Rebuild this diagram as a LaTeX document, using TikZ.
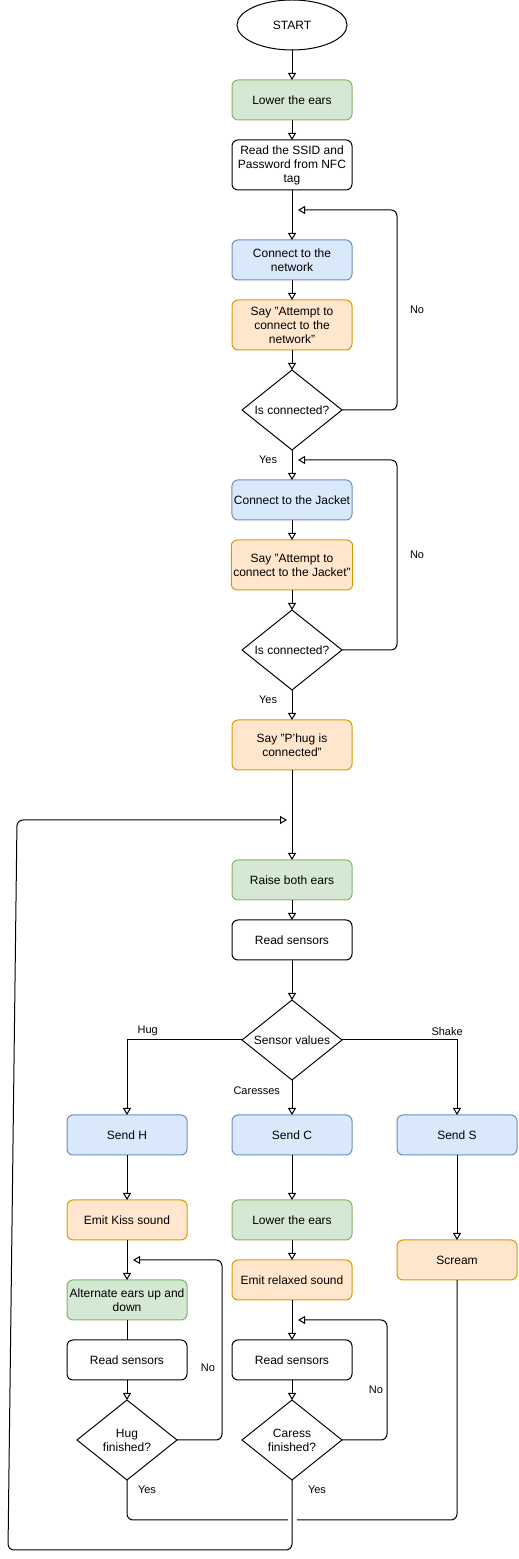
\documentclass[tikz,border=0pt]{standalone}
\usepackage{fontspec}
\setmainfont{Liberation Sans}
\usetikzlibrary{arrows.meta,positioning,shapes.geometric,calc}

\definecolor{earsfill}{HTML}{D5E8D4}
\definecolor{earsline}{HTML}{82B366}
\definecolor{commfill}{HTML}{DAE8FC}
\definecolor{commline}{HTML}{6C8EBF}
\definecolor{speechfill}{HTML}{FFE6CC}
\definecolor{speechline}{HTML}{D79B00}

\begin{document}
\begin{tikzpicture}[x=1pt,y=1pt,>={Triangle[open,length=7pt,width=8pt]},
  every node/.style={font=\fontsize{12}{14}\selectfont,align=center,outer sep=0pt},
  box/.style={draw,rounded corners=6pt,line width=1pt,minimum width=120pt,minimum height=40pt,inner sep=2pt},
  tall/.style={box,minimum height=50pt},
  ears/.style={fill=earsfill,draw=earsline},
  comm/.style={fill=commfill,draw=commline},
  speech/.style={fill=speechfill,draw=speechline},
  decision/.style={draw,diamond,aspect=1.25,line width=1pt,minimum width=100pt,minimum height=80pt,inner sep=0pt},
  lbl/.style={font=\fontsize{11}{13}\selectfont,inner sep=1pt},
  arr/.style={->,line width=1pt},
  link/.style={line width=1pt}]
  \useasboundingbox (0,0) rectangle (519,1559);

  % set-up part
  \node[draw,ellipse,line width=1pt,minimum width=110pt,minimum height=50pt,inner sep=0pt] (start) at (292,1534) {START};
  \node[box,ears,below=30pt of start] (lowerears) {Lower the ears};
  \node[tall,below=20pt of lowerears] (readtag) {Read the SSID and\\Password from NFC\\tag};
  \node[box,comm,below=50pt of readtag] (connet) {Connect to the\\network};
  \node[tall,speech,below=20pt of connet] (saynet) {Say "Attempt to\\connect to the\\network"};
  \node[decision,below=20pt of saynet] (isnet) {Is connected?};
  \node[box,comm,below=30pt of isnet] (conjacket) {Connect to the Jacket};
  \node[tall,speech,below=20pt of conjacket] (sayjacket) {Say "Attempt to\\connect to the Jacket"};
  \node[decision,below=20pt of sayjacket] (isjacket) {Is connected?};
  \node[tall,speech,below=30pt of isjacket] (sayhug) {Say "P'hug is\\connected"};

  % main loop
  \node[box,ears,below=90pt of sayhug] (raiseears) {Raise both ears};
  \node[box,below=20pt of raiseears] (readsens) {Read sensors};
  \node[decision,below=40pt of readsens] (sensval) {Sensor values};
  \node[box,comm,below=35pt of sensval] (sendc) {Send C};
  \node[box,comm,left=45pt of sendc] (sendh) {Send H};
  \node[box,comm,right=45pt of sendc] (sends) {Send S};

  \node[box,speech,below=45pt of sendh] (kiss) {Emit Kiss sound};
  \node[box,ears,below=40pt of kiss] (alternate) {Alternate ears up and\\down};
  \node[box,below=20pt of alternate] (readh) {Read sensors};
  \node[decision,below=20pt of readh] (hugdone) {Hug\\finished?};

  \node[box,ears,below=45pt of sendc] (lowerearsc) {Lower the ears};
  \node[box,speech,below=20pt of lowerearsc] (relaxed) {Emit relaxed sound};
  \node[box,below=40pt of relaxed] (readc) {Read sensors};
  \node[decision,below=20pt of readc] (caressdone) {Caress\\finished?};

  \node[box,speech,below=85pt of sends] (scream) {Scream};

  \coordinate[below right=20pt and 6pt of readtag.south] (nettip);
  \coordinate[below right=10pt and 6pt of isnet.south] (jackettip);
  \coordinate[below left=50pt and 5pt of sayhug.south] (backtip);
  \coordinate[below right=20pt and 6pt of kiss.south] (hugtip);
  \coordinate[below right=20pt and 6pt of relaxed.south] (caresstip);

  \draw[arr] (start) -- (lowerears);
  \draw[arr] (lowerears) -- (readtag);
  \draw[arr] (readtag) -- (connet);
  \draw[arr] (connet) -- (saynet);
  \draw[arr] (saynet) -- (isnet);
  \draw[arr,rounded corners=6pt] (isnet.east) -- ++(55,0) |- node[lbl,pos=0.25,right=12pt] {No} (nettip);
  \draw[arr] (isnet) -- node[lbl,pos=0.33,left=14pt] {Yes} (conjacket);
  \draw[arr] (conjacket) -- (sayjacket);
  \draw[arr] (sayjacket) -- (isjacket);
  \draw[arr,rounded corners=6pt] (isjacket.east) -- ++(55,0) |- node[lbl,pos=0.25,right=12pt] {No} (jackettip);
  \draw[arr] (isjacket) -- node[lbl,pos=0.33,left=14pt] {Yes} (sayhug);
  \draw[arr] (sayhug) -- (raiseears);
  \draw[arr] (raiseears) -- (readsens);
  \draw[arr] (readsens) -- (sensval);

  \draw[arr] (sensval.west) -| node[lbl,pos=0.41,above=3pt] {Hug} (sendh);
  \draw[arr] (sensval) -- node[lbl,pos=0.31,left=11pt] {Caresses} (sendc);
  \draw[arr] (sensval.east) -| node[lbl,pos=0.457,above=3pt] {Shake} (sends);

  % hug branch
  \draw[arr] (sendh) -- (kiss);
  \draw[arr] (kiss) -- (alternate);
  \draw[link] (alternate) -- (readh);
  \draw[arr] (readh) -- (hugdone);
  \draw[arr,rounded corners=6pt] (hugdone.east) -- ++(45,0) |- node[lbl,pos=0.2,left=6pt] {No} (hugtip);

  % caress branch
  \draw[arr] (sendc) -- (lowerearsc);
  \draw[arr] (lowerearsc) -- (relaxed);
  \draw[arr] (relaxed) -- (readc);
  \draw[arr] (readc) -- (caressdone);
  \draw[arr,rounded corners=6pt] (caressdone.east) -- ++(45,0) |- node[lbl,pos=0.21,left=3pt] {No} (caresstip);

  % shake branch
  \draw[arr] (sends) -- (scream);

  % back to the start of the loop
  \draw[link,rounded corners=6pt] (hugdone.south) |- node[lbl,pos=0.125,right=10pt] {Yes} ($(caressdone.south)+(-4,-40)$);
  \draw[link,rounded corners=6pt] (scream.south) |- ($(caressdone.south)+(5,-40)$);
  \draw[arr,rounded corners=6pt] (caressdone.south) |- node[lbl,pos=0.07,right=15pt] {Yes} (8,9) -- (17,739) -- (backtip);
\end{tikzpicture}
\end{document}
